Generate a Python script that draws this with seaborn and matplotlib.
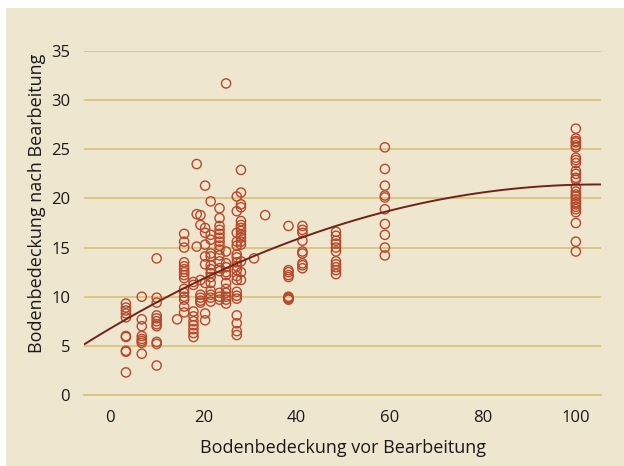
import matplotlib
matplotlib.use("Agg")
import matplotlib.pyplot as plt
from matplotlib.patches import Rectangle
import numpy as np
import pandas as pd
import seaborn as sns

# Ground cover before tillage (column positions) and ground cover after tillage
cover_before = [3.4, 6.8, 10.0, 14.4, 15.9, 17.9, 18.6, 19.4, 20.4, 21.6, 23.5,
                24.9, 27.2, 28.1, 30.9, 33.3, 38.3, 41.3, 48.5, 59.0, 100.0]
cover_after = [
    [9.3, 8.9, 8.6, 8.3, 7.9, 6.0, 5.9, 4.5, 4.4, 2.3],
    [10.0, 7.7, 7.0, 6.0, 5.7, 5.5, 5.3, 4.2],
    [13.9, 9.9, 9.4, 8.1, 7.8, 7.5, 7.2, 7.0, 5.4, 5.2, 3.0],
    [7.7],
    [16.4, 15.6, 15.0, 13.5, 13.1, 12.8, 12.5, 12.2, 11.9, 10.8, 10.4, 10.0, 9.7, 9.0, 8.4],
    [11.5, 11.2, 8.5, 8.0, 7.5, 7.1, 6.7, 6.3, 5.9],
    [23.5, 18.4, 15.1],
    [18.3, 17.3, 11.7, 10.2, 9.9, 9.6, 9.4],
    [21.3, 17.0, 16.5, 15.3, 14.1, 13.3, 11.4, 8.3, 7.6],
    [19.7, 16.3, 15.8, 14.4, 14.1, 13.2, 12.8, 12.4, 12.0, 11.4, 10.6, 10.2, 9.9, 9.5],
    [19.0, 18.0, 17.2, 16.8, 16.4, 16.0, 15.6, 15.2, 14.8, 14.2, 13.6, 12.9, 12.6, 10.4, 10.0, 9.7],
    [31.7, 14.6, 13.4, 13.0, 12.5, 12.2, 11.4, 10.8, 10.4, 10.0, 9.7, 9.3],
    [20.2, 18.7, 16.5, 15.6, 15.2, 14.3, 14.0, 13.5, 13.1, 12.7, 12.1, 11.7, 10.5, 10.1, 9.8,
     8.1, 7.3, 6.5, 6.1],
    [22.9, 20.6, 19.4, 19.1, 17.7, 17.3, 17.0, 16.7, 16.3, 16.0, 15.6, 15.3, 13.6, 12.5, 11.7],
    [13.9],
    [18.3],
    [17.2, 12.7, 12.5, 12.2, 12.0, 10.0, 9.9, 9.8, 9.7],
    [17.2, 16.8, 16.5, 15.7, 14.6, 14.4, 13.4, 13.2, 12.9],
    [16.6, 16.2, 15.7, 15.4, 15.0, 14.6, 13.6, 13.3, 13.0, 12.7, 12.3],
    [25.2, 23.0, 21.3, 20.3, 20.1, 18.9, 17.4, 16.3, 15.0, 14.2],
    [27.1, 26.1, 25.85, 25.7, 25.4, 25.2, 24.15, 23.9, 23.6, 22.8, 22.5, 22.1, 21.9, 21.1,
     20.7, 20.4, 20.2, 19.9, 19.6, 19.4, 19.15, 18.9, 18.6, 17.5, 15.6, 14.6],
]
x_ticks = [0, 20, 40, 60, 80, 100]
y_ticks = [0, 5, 10, 15, 20, 25, 30, 35]

df = pd.DataFrame(
    [(b, a) for b, col in zip(cover_before, cover_after) for a in col],
    columns=["vor", "nach"],
)

BEIGE = "#efe6d0"
GOLD = "#d8c47f"
RUST = "#b5492b"
CURVE = "#6e2416"
TEXT = "#1a1a1a"

sns.set_style("white")
plt.rcParams["font.family"] = ["Open Sans", "DejaVu Sans"]

fig = plt.figure(figsize=(6.24, 4.66), dpi=100, facecolor="white")
fig.patches.append(Rectangle((6 / 624, 0), 1, (466 - 8) / 466,
                             transform=fig.transFigure, facecolor=BEIGE,
                             edgecolor="none", zorder=-10))

ax = fig.add_axes([84 / 624, 1 - 395 / 466, (601 - 84) / 624, (395 - 51) / 466])
ax.set_facecolor(BEIGE)
ax.set_xlim(-5.6, 105.4)
ax.set_ylim(0, 35)

sns.scatterplot(data=df, x="vor", y="nach", ax=ax, marker="o", s=44,
                facecolor="none", edgecolor=RUST, linewidth=1.0, zorder=3)
sns.regplot(data=df, x="vor", y="nach", ax=ax, order=2, ci=None, scatter=False,
            truncate=False, line_kws=dict(color=CURVE, lw=1.4, zorder=4))

ax.set_xlim(-5.6, 105.4)
ax.set_ylim(0, 35)
ax.set_xticks(x_ticks)
ax.set_yticks(y_ticks)

ax.yaxis.grid(True, color=GOLD, lw=1.3)
ax.xaxis.grid(False)
ax.set_axisbelow(True)
for side in ["top", "right", "left"]:
    ax.spines[side].set_visible(False)
ax.spines["bottom"].set_color(GOLD)
ax.spines["bottom"].set_linewidth(1.3)

ax.tick_params(axis="x", direction="out", length=8, width=1.3, color=GOLD,
               pad=3, labelsize=12, labelcolor=TEXT)
ax.tick_params(axis="y", length=0, pad=10, labelsize=12, labelcolor=TEXT)

ax.set_xlabel("Bodenbedeckung vor Bearbeitung", fontsize=13, color=TEXT, labelpad=9)
ax.set_ylabel("Bodenbedeckung nach Bearbeitung", fontsize=13, color=TEXT,
              va="center", ha="center")
ax.yaxis.set_label_coords(-0.091, 0.556)

fig.savefig("out.png", dpi=100, facecolor=fig.get_facecolor())
